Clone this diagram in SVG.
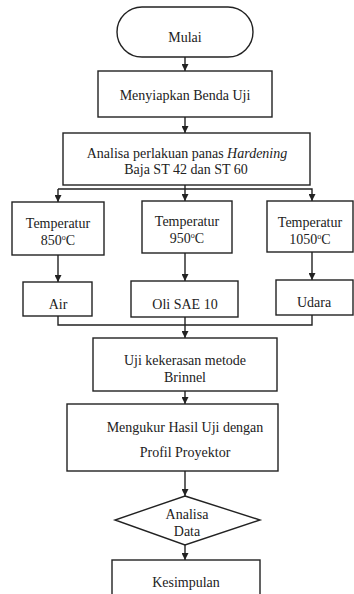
<svg xmlns="http://www.w3.org/2000/svg" width="354" height="594" viewBox="0 0 354 594">
<defs>
<style>
.box{fill:#fff;stroke:#222;stroke-width:1.4}
.ln{fill:none;stroke:#222;stroke-width:1.4}
.t text{font-size:14px;fill:#222;text-anchor:middle}
</style>
<marker id="ah" viewBox="0 0 10 10" refX="10" refY="5" markerWidth="7" markerHeight="7" markerUnits="userSpaceOnUse" orient="auto">
<path d="M0,0 L10,5 L0,10 z" fill="#222"/>
</marker>
</defs>
<rect width="354" height="594" fill="#fff"/>
<g id="connectors">
<line class="ln" x1="185" y1="57" x2="185" y2="71" marker-end="url(#ah)"/>
<line class="ln" x1="185" y1="117" x2="185" y2="133" marker-end="url(#ah)"/>
<line class="ln" x1="185" y1="185" x2="185" y2="201" marker-end="url(#ah)"/>
<polyline class="ln" points="58,189 312,189 312,201" marker-end="url(#ah)"/>
<line class="ln" x1="58" y1="189" x2="58" y2="202" marker-end="url(#ah)"/>
<line class="ln" x1="58" y1="255" x2="58" y2="282" marker-end="url(#ah)"/>
<line class="ln" x1="185" y1="253" x2="185" y2="281" marker-end="url(#ah)"/>
<line class="ln" x1="312" y1="252" x2="312" y2="280" marker-end="url(#ah)"/>
<polyline class="ln" points="58,316 58,325 312,325 312,315"/>
<line class="ln" x1="185" y1="317" x2="185" y2="338" marker-end="url(#ah)"/>
<line class="ln" x1="185" y1="391" x2="185" y2="404" marker-end="url(#ah)"/>
<line class="ln" x1="185" y1="471" x2="185" y2="496" marker-end="url(#ah)"/>
<line class="ln" x1="185" y1="545" x2="185" y2="560" marker-end="url(#ah)"/>
</g>
<g class="t" font-family="'Liberation Serif', Tinos, 'DejaVu Serif', 'Times New Roman', serif">
<g id="mulai">
<rect class="box" x="117" y="7" width="136" height="50" rx="25" ry="25"/>
<text x="185" y="42">Mulai</text>
</g>
<g id="menyiapkan">
<rect class="box" x="98" y="71" width="174" height="46"/>
<text x="185" y="100">Menyiapkan Benda Uji</text>
</g>
<g id="analisa-perlakuan">
<rect class="box" x="63" y="133" width="247" height="52"/>
<text x="187" y="158">Analisa perlakuan panas <tspan font-style="italic">Hardening</tspan></text>
<text x="186" y="174">Baja ST 42 dan ST 60</text>
</g>
<g id="temp850">
<rect class="box" x="12" y="202" width="92" height="53"/>
<text x="58" y="228">Temperatur</text>
<text x="58" y="245">850<tspan font-size="8" dy="-5">o</tspan><tspan dy="5">C</tspan></text>
</g>
<g id="temp950">
<rect class="box" x="142" y="201" width="90" height="52"/>
<text x="187" y="226">Temperatur</text>
<text x="187" y="243">950<tspan font-size="8" dy="-5">o</tspan><tspan dy="5">C</tspan></text>
</g>
<g id="temp1050">
<rect class="box" x="267" y="201" width="86" height="51"/>
<text x="310" y="227">Temperatur</text>
<text x="310" y="244">1050<tspan font-size="8" dy="-5">o</tspan><tspan dy="5">C</tspan></text>
</g>
<g id="air">
<rect class="box" x="23" y="282" width="69" height="34"/>
<text x="58" y="309">Air</text>
</g>
<g id="oli">
<rect class="box" x="131" y="281" width="107" height="36"/>
<text x="185" y="309">Oli SAE 10</text>
</g>
<g id="udara">
<rect class="box" x="276" y="280" width="77" height="35"/>
<text x="314" y="307">Udara</text>
</g>
<g id="uji">
<rect class="box" x="93" y="338" width="184" height="53"/>
<text x="185" y="365">Uji kekerasan metode</text>
<text x="185" y="382">Brinnel</text>
</g>
<g id="mengukur">
<rect class="box" x="67" y="404" width="211" height="67"/>
<text x="185" y="432">Mengukur Hasil Uji dengan</text>
<text x="185" y="457">Profil Proyektor</text>
</g>
<g id="analisa-data">
<polygon class="box" points="185,496 260,520 185,545 115,520"/>
<text x="187" y="519">Analisa</text>
<text x="187" y="536">Data</text>
</g>
<g id="kesimpulan">
<rect class="box" x="112" y="560" width="148" height="50"/>
<text x="186" y="587">Kesimpulan</text>
</g>
</g>
</svg>
